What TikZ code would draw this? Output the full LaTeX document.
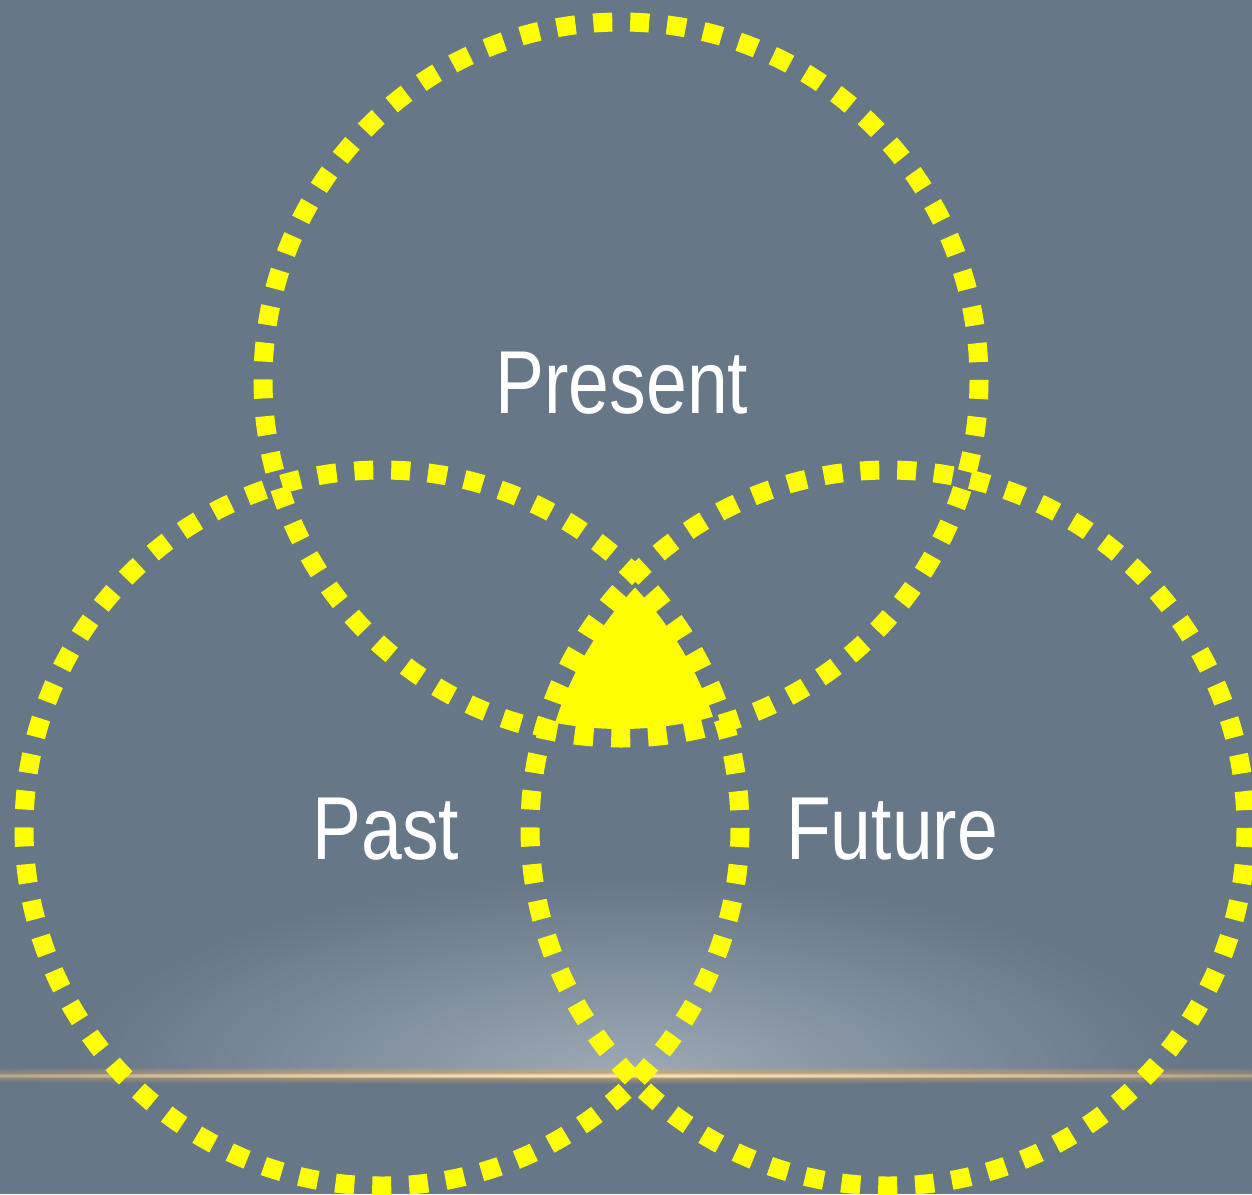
\documentclass[tikz,border=0pt]{standalone}
\usepackage{fontspec}
\usetikzlibrary{fadings}
\setmainfont{Liberation Sans}
\definecolor{slate}{RGB}{102,119,136}
\definecolor{glowc}{RGB}{158,170,182}
\definecolor{dotyellow}{RGB}{255,255,0}
\definecolor{haloorange}{RGB}{226,168,92}
\definecolor{corelight}{RGB}{255,236,200}
\tikzfading[name=softedge, inner color=transparent!0, outer color=transparent!100]
\begin{document}
\begin{tikzpicture}[x=0.5pt,y=-0.5pt,
    dotring/.style={draw=dotyellow, line width=9.5pt, dash pattern=on 9.5pt off 8.94pt},
    timelabel/.style={text=white, anchor=base, inner sep=0pt, font=\fontsize{44.7pt}{50pt}\selectfont}]
\fill[slate] (0,0) rectangle (1252,1194);
\useasboundingbox (0,0) rectangle (1252,1194);
% glow over the horizon
\begin{scope}
    \clip (0,800) rectangle (1252,1076);
    \fill[glowc, path fading=softedge] (630,1076) ellipse (560 and 200);
\end{scope}
\fill[haloorange, path fading=softedge, opacity=0.8] (630,1075) ellipse (1150 and 9);
\fill[corelight, path fading=softedge] (600,1075.5) ellipse (900 and 3);
% centres of the three rings
\coordinate (cpresent) at (621,380);
\coordinate (cpast) at (382,828);
\coordinate (cfuture) at (888,828);
% common part of the rings
\begin{scope}
    \clip (cpresent) circle (349);
    \clip (cpast) circle (349);
    \fill[dotyellow] (cfuture) circle (349);
\end{scope}
\foreach \c in {cpresent,cpast,cfuture}{
    \draw[dotring] (\c) circle (358);
}
\node[timelabel] (present) at (622,413) {\scalebox{0.82}[1]{Present}};
\node[timelabel] (past) at (386,859) {\scalebox{0.82}[1]{Past}};
\node[timelabel] (future) at (892,859) {\scalebox{0.82}[1]{Future}};
\end{tikzpicture}
\end{document}
